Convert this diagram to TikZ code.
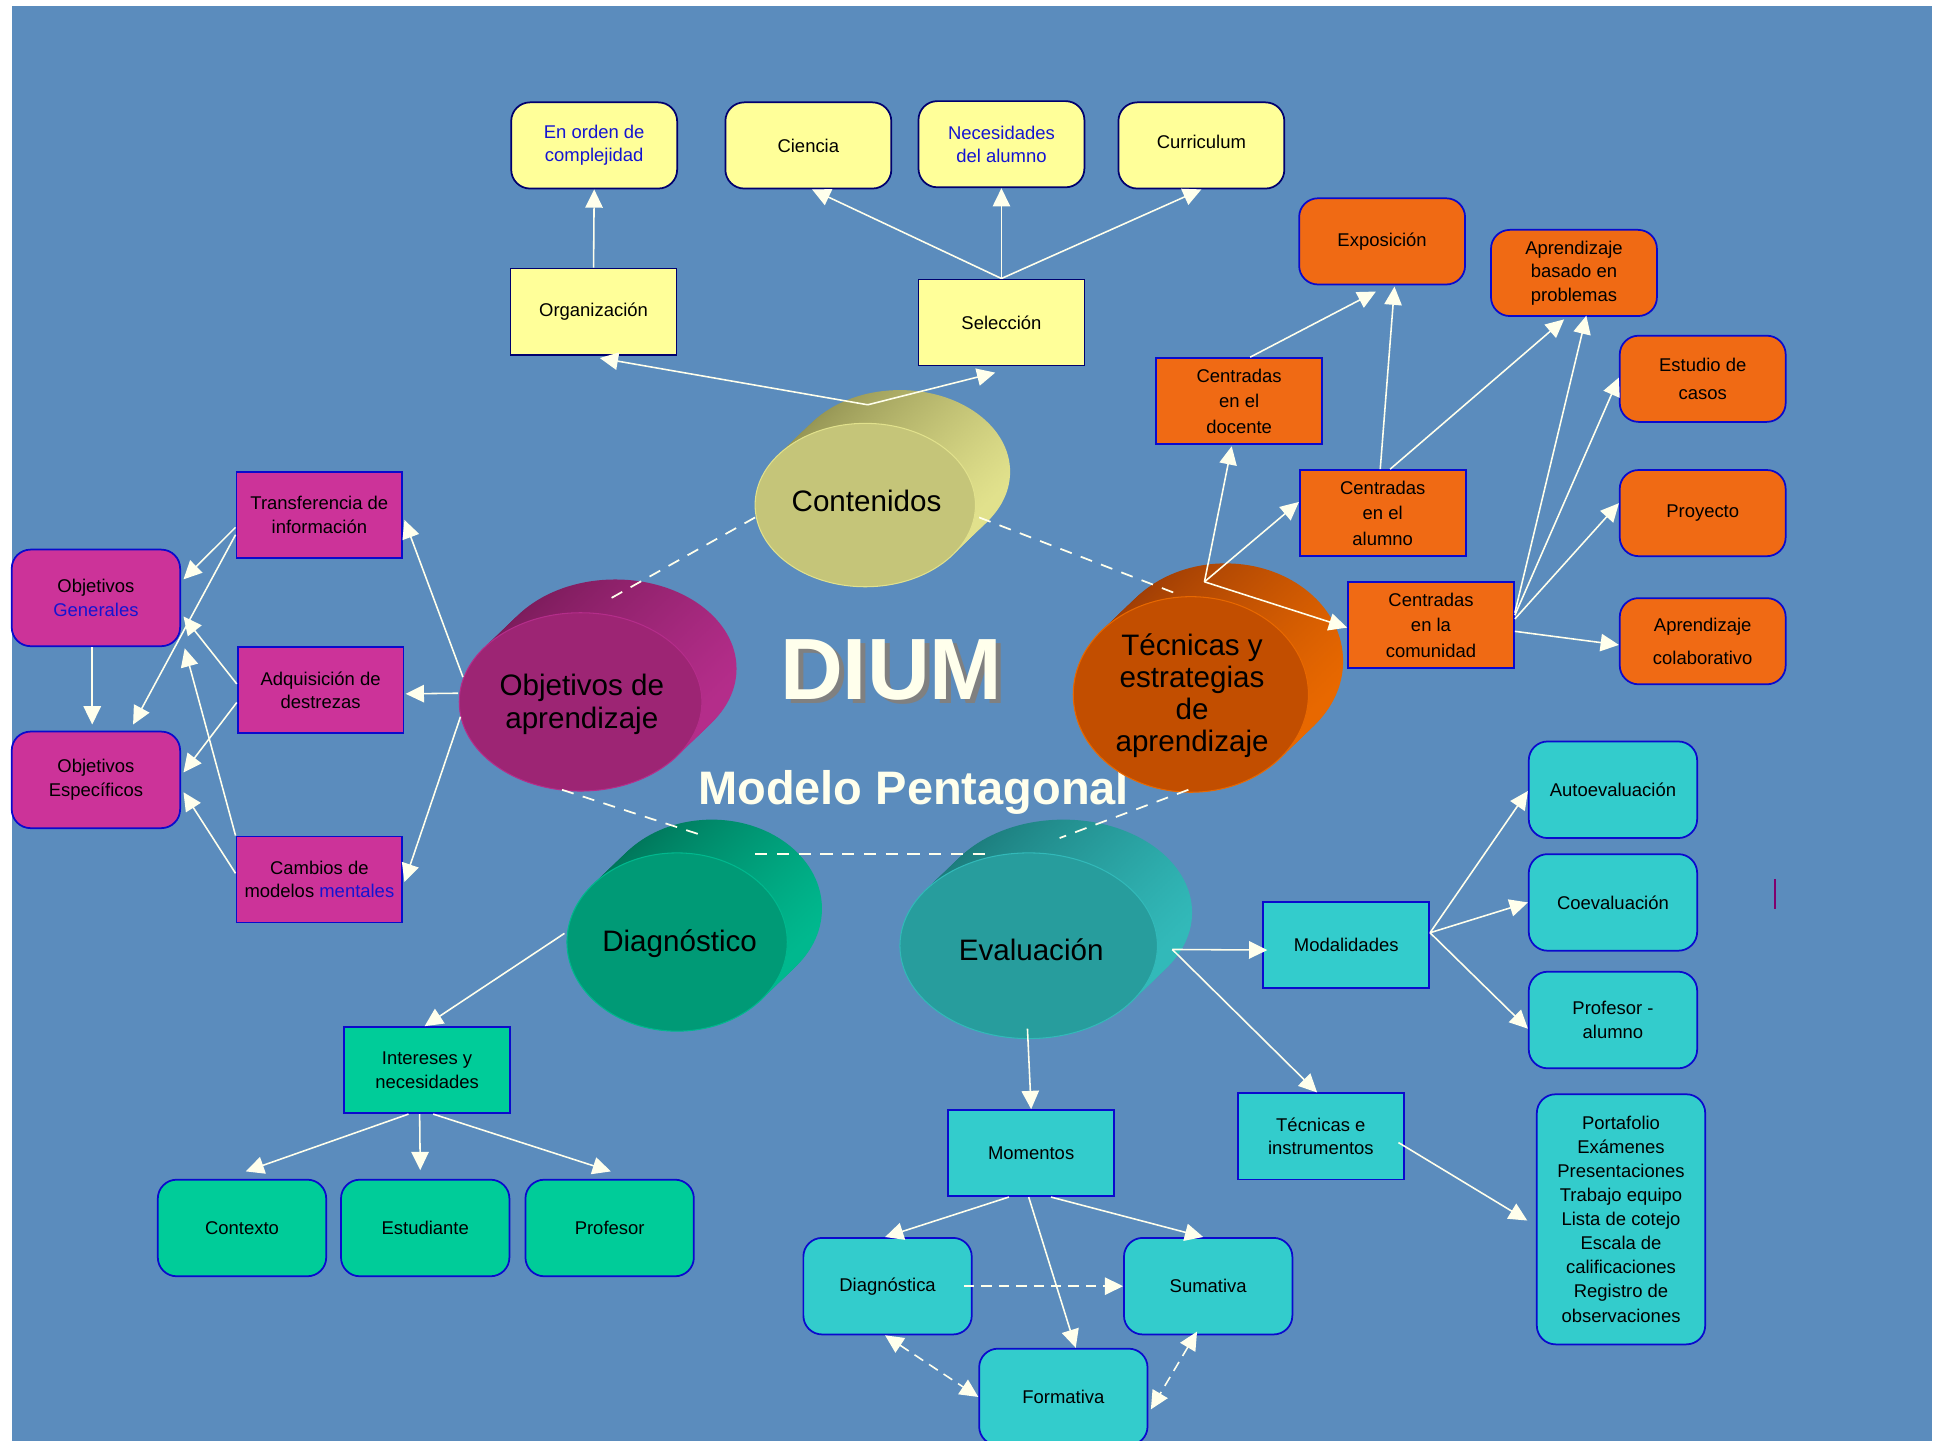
\documentclass[tikz,border=0pt]{standalone}
\usepackage{fontspec}
\setmainfont{Liberation Sans}
\usetikzlibrary{arrows.meta,calc}

\definecolor{bgblue}{RGB}{91,140,189}
\definecolor{yelfill}{RGB}{255,255,153}
\definecolor{orgfill}{RGB}{240,106,20}
\definecolor{magfill}{RGB}{204,51,153}
\definecolor{grnfill}{RGB}{0,204,153}
\definecolor{cyafill}{RGB}{51,204,204}
\definecolor{navyline}{RGB}{0,0,110}
\definecolor{blueline}{RGB}{10,10,205}
\definecolor{bluetext}{RGB}{20,20,210}
\definecolor{cream}{RGB}{255,255,236}
\definecolor{markpurple}{RGB}{128,0,110}
% cylinder colours: front, dark side, light side
\definecolor{contF}{RGB}{197,197,121}
\definecolor{contD}{RGB}{150,150,85}
\definecolor{contL}{RGB}{225,225,140}
\definecolor{objF}{RGB}{157,37,116}
\definecolor{objD}{RGB}{125,28,92}
\definecolor{objL}{RGB}{180,45,138}
\definecolor{tecF}{RGB}{194,78,0}
\definecolor{tecD}{RGB}{160,62,5}
\definecolor{tecL}{RGB}{232,104,0}
\definecolor{diagF}{RGB}{0,154,118}
\definecolor{diagD}{RGB}{0,118,90}
\definecolor{diagL}{RGB}{0,184,142}
\definecolor{evalF}{RGB}{39,157,157}
\definecolor{evalD}{RGB}{28,125,125}
\definecolor{evalL}{RGB}{50,185,185}

\newcommand{\boxfont}{\fontsize{10.6}{13.5}\selectfont}
\newcommand{\cylfont}{\fontsize{17}{18.5}\selectfont}

% x, y, rx, ry, front, dark side, light side
\newcommand{\drawcyl}[7]{%
  \foreach \k in {28,26,...,2} {
    \shade[top color=#6,bottom color=#7,shading angle=60] ({#1+\k},{#2-0.96*\k}) ellipse ({#3} and {#4});
  }
  \filldraw[fill=#5,draw=#7,line width=0.6pt] (#1,#2) ellipse ({#3} and {#4});
}

\tikzset{
  box/.style={draw=blueline, line width=1pt, align=center, inner sep=1pt,
    minimum width=3.35cm, minimum height=1.74cm, font=\boxfont},
  tall/.style={rounded corners=0.38cm, minimum width=3.4cm, minimum height=1.95cm},
  yrect/.style={box, fill=yelfill, draw=navyline},
  yround/.style={yrect, rounded corners=0.38cm},
  orect/.style={box, fill=orgfill},
  oround/.style={orect, rounded corners=0.38cm},
  mrect/.style={box, fill=magfill},
  mround/.style={mrect, tall},
  grect/.style={box, fill=grnfill},
  ground/.style={grect, tall},
  crect/.style={box, fill=cyafill},
  cround/.style={crect, tall},
  cyltext/.style={font=\cylfont, align=center, inner sep=0pt},
  link/.style={draw=cream, line width=0.9pt, ->},
  dlink/.style={link, dash pattern=on 6pt off 4pt},
  pent/.style={draw=cream, line width=1pt, dash pattern=on 7pt off 5.5pt}
}

\begin{document}
\begin{tikzpicture}[x=0.025cm, y=-0.025cm, >={Triangle[length=10.5pt,width=10pt]}]
  \useasboundingbox (0,0) rectangle (1568,1164);
  \fill[white] (0,0) rectangle (1568,1164);
  \fill[bgblue] (10,5) rectangle (1561,1164);

  % titles
  \node[anchor=base, text=gray, font=\fontsize{50}{50}\selectfont\bfseries] at (724,568) {DIUM};
  \node[anchor=base, text=cream, font=\fontsize{50}{50}\selectfont\bfseries] (dium) at (720,565) {DIUM};
  \node[anchor=base, text=cream, font=\fontsize{27}{27}\selectfont\bfseries] (modelo) at (738,650) {Modelo Pentagonal};

  % the five cylinders
  \drawcyl{699}{408}{89}{66}{contF}{contD}{contL}
  \drawcyl{469}{567}{98}{72}{objF}{objD}{objL}
  \drawcyl{962}{561}{95}{79}{tecF}{tecD}{tecL}
  \drawcyl{547}{761}{89}{72}{diagF}{diagD}{diagL}
  \drawcyl{831}{764}{104}{75}{evalF}{evalD}{evalL}

  \node[cyltext] (cont) at (700,405) {Contenidos};
  \node[cyltext] (obj) at (470,569) {Objetivos de\\aprendizaje};
  \node[cyltext] (tec) at (963,562) {Técnicas y\\estrategias\\de\\aprendizaje};
  \node[cyltext] (diag) at (549,762) {Diagnóstico};
  \node[cyltext] (eval) at (833,767) {Evaluación};

  \coordinate (cJ) at (701,327);
  \coordinate (tJ) at (973,470);
  \coordinate (oA) at (374,547);
  \coordinate (oB) at (370,560);
  \coordinate (oC) at (372,579);
  \coordinate (dJ) at (456,754);
  \coordinate (eJ) at (947,767);
  \coordinate (eB) at (830,831);

  % pentagon
  \coordinate (c1) at (610,418); \coordinate (o1) at (494,483);
  \coordinate (c2) at (791,418); \coordinate (t1) at (954,481);
  \coordinate (o2) at (454,638); \coordinate (d1) at (571,676);
  \coordinate (t2) at (960,638); \coordinate (e1) at (856,677);
  \coordinate (d2) at (610,690); \coordinate (e2) at (802,690);
  \draw[pent] (c1) -- (o1);
  \draw[pent] (c2) -- (t1);
  \draw[pent] (o2) -- (d1);
  \draw[pent] (t2) -- (e1);
  \draw[pent] (d2) -- (e2);

  % Contenidos
  \node[yround, text=bluetext] (orden) at (480,117.5) {En orden de\\complejidad};
  \node[yround] (ciencia) at (653,117.5) {Ciencia};
  \node[yround, text=bluetext] (necesid) at (809,116.5) {Necesidades\\del alumno};
  \node[yround] (curric) at (970.5,117.5) {\raisebox{4pt}{Curriculum}};
  \node[yrect] (organiz) at (479.5,251.7) {Organización};
  \node[yrect] (selecc) at (809,260.5) {Selección};

  \draw[link] (organiz.north) -- (orden.south);
  \draw[link] (selecc.north) -- ($(ciencia.south)+(3,0)$);
  \draw[link] (selecc.north) -- (necesid.south);
  \draw[link] (selecc.north) -- (curric.south);
  \draw[link] (cJ) -- ($(organiz.south)+(5,2)$);
  \draw[link] (cJ) -- ($(selecc.south)+(-5,5)$);

  % Tecnicas y estrategias
  \node[oround] (expos) at (1116.5,195) {Exposición};
  \node[oround] (abp) at (1271.5,220.5) {Aprendizaje\\basado en\\problemas};
  \node[orect] (docente) at (1001,324) {Centradas\\[1.1pt]en el\\[1.1pt]docente};
  \node[oround] (casos) at (1375.5,306) {Estudio de\\[3pt]casos};
  \node[orect] (alumno) at (1117,414.5) {Centradas\\[1.1pt]en el\\[1.1pt]alumno};
  \node[oround] (proy) at (1375.5,414.5) {Proyecto};
  \node[orect] (comun) at (1156,505) {Centradas\\[1.1pt]en la\\[1.1pt]comunidad};
  \node[oround] (colab) at (1375.5,518) {Aprendizaje\\[5.5pt]colaborativo};

  \draw[link] (tJ) -- ($(docente.south)+(-6,1)$);
  \draw[link] (tJ) -- ($(alumno.west)+(0,-9)$);
  \draw[link] (tJ) -- ($(comun.west)+(0,2)$);
  \draw[link] ($(docente.north)+(9,0)$) -- ($(expos.south)+(-5,5)$);
  \draw[link] ($(alumno.north)+(-2,0)$) -- ($(expos.south)+(10,1)$);
  \draw[link] ($(alumno.north)+(6,0)$) -- ($(abp.south)+(-8,2)$);
  \draw[link] ($(comun.east)+(0,-10)$) -- ($(abp.south)+(10,-1)$);
  \draw[link] ($(comun.east)+(0,-8)$) -- ($(casos.west)+(0,-1)$);
  \draw[link] ($(comun.east)+(0,-5)$) -- ($(proy.west)+(0,-8)$);
  \draw[link] ($(comun.east)+(0,5)$) -- ($(colab.west)+(0,3)$);

  % Objetivos de aprendizaje
  \node[mrect] (transf) at (258,416) {Transferencia de\\información};
  \node[mrect] (adq) at (259,557.5) {Adquisición de\\destrezas};
  \node[mrect] (camb) at (258,710.5) {Cambios de\\modelos {\color{bluetext}mentales}};
  \node[mround] (ogen) at (77.5,483) {Objetivos\\{\color{bluetext}Generales}};
  \node[mround] (oesp) at (77.5,630) {Objetivos\\Específicos};

  \draw[link] (oA) -- ($(transf.east)+(1,4)$);
  \draw[link] (oB) -- ($(adq.east)+(1,3)$);
  \draw[link] (oC) -- ($(camb.east)+(1,2)$);
  \draw[link] ($(transf.west)+(0,10)$) -- ($(ogen.east)+(2,-15)$);
  \draw[link] ($(transf.west)+(0,16)$) -- ($(oesp.north)+(30,-5)$);
  \draw[link] ($(adq.west)+(0,-5)$) -- ($(ogen.east)+(2,15)$);
  \draw[link] ($(adq.west)+(0,10)$) -- ($(oesp.east)+(2,-6)$);
  \draw[link] ($(camb.west)+(0,-5)$) -- ($(oesp.east)+(2,10)$);
  \draw[link] (camb.north west) -- ($(ogen.south east)+(3,1)$);
  \draw[link] ($(ogen.south)+(-3,0)$) -- ($(oesp.north)+(-3,-5)$);

  % Diagnostico
  \node[grect] (inter) at (345,864.5) {Intereses y\\necesidades};
  \node[ground] (contx) at (195.5,992) {Contexto};
  \node[ground] (estud) at (343.5,992) {Estudiante};
  \node[ground] (profe) at (492.5,992) {Profesor};

  \draw[link] (dJ) -- ($(inter.north)+(-2,0)$);
  \draw[link] ($(inter.south)+(-15,0)$) -- ($(contx.north)+(3,-6)$);
  \draw[link] ($(inter.south)+(-6,0)$) -- ($(estud.north)+(-4,-7)$);
  \draw[link] ($(inter.south)+(5,0)$) -- ($(profe.north)+(1,-6)$);

  % Evaluacion
  \node[crect] (modal) at (1087.5,763.5) {Modalidades};
  \node[cround] (auto) at (1303,638) {Autoevaluación};
  \node[cround] (coev) at (1303,729) {Coevaluación};
  \node[cround] (pa) at (1303,824) {Profesor -\\alumno};
  \node[crect] (tinst) at (1067,918) {Técnicas e\\instrumentos};
  \node[cround, minimum height=5.05cm, font=\fontsize{10.6}{13.8}\selectfont] (port) at (1309.5,985)
    {Portafolio\\Exámenes\\Presentaciones\\Trabajo equipo\\Lista de cotejo\\Escala de\\calificaciones\\Registro de\\observaciones};
  \node[crect] (moment) at (833,931.5) {Momentos};
  \node[cround] (diagn) at (717,1039) {Diagnóstica};
  \node[cround] (sumat) at (976,1039) {Sumativa};
  \node[cround] (formt) at (859,1128.5) {Formativa};

  \draw[link] (eJ) -- ($(modal.west)+(4,4)$);
  \draw[link] (eJ) -- ($(tinst.north)+(-3,0)$);
  \draw[link] (eB) -- (moment.north);
  \draw[link] ($(modal.east)+(0,-10)$) -- ($(auto.west)+(0,1)$);
  \draw[link] ($(modal.east)+(0,-10)$) -- (coev.west);
  \draw[link] ($(modal.east)+(0,-10)$) -- ($(pa.west)+(0,7)$);
  \draw[link] ($(tinst.east)+(-5,5)$) -- ($(port.west)+(-7,1)$);
  \draw[link] ($(moment.south)+(-18,0)$) -- ($(diagn.north)+(-2,0)$);
  \draw[link] ($(moment.south)+(-2,0)$) -- ($(formt.north)+(10,0)$);
  \draw[link] ($(moment.south)+(16,0)$) -- ($(sumat.north)+(-4,0)$);
  \draw[dlink] ($(diagn.east)+(-7,0)$) -- (sumat.west);
  \draw[dlink, <->] ($(diagn.south)+(-2,0)$) -- (formt.west);
  \draw[dlink, <->] ($(sumat.south)+(-9,-3)$) -- ($(formt.east)+(2,10)$);

  \draw[markpurple, line width=1pt] (1434,710) -- (1434,734);
\end{tikzpicture}
\end{document}
